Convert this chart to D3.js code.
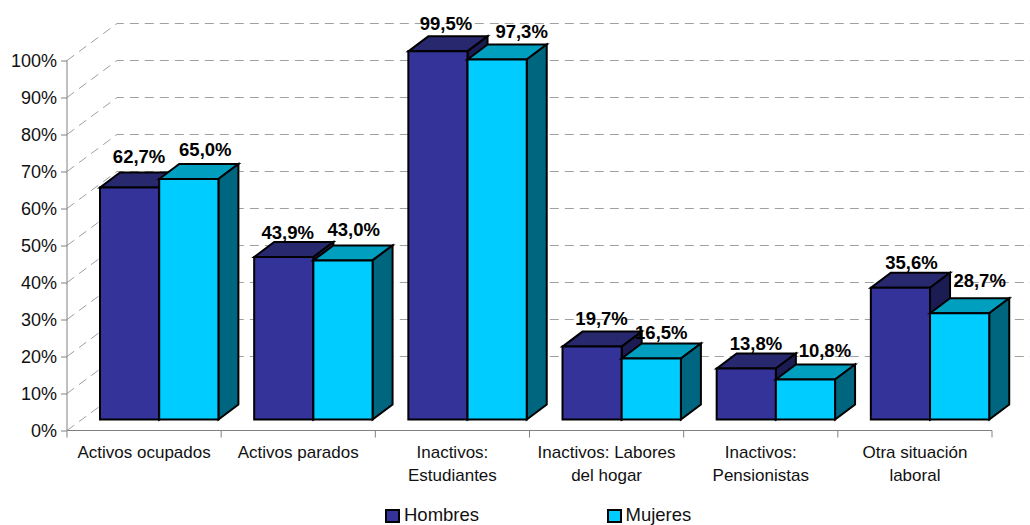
<!DOCTYPE html>
<html><head><meta charset="utf-8">
<style>html,body{margin:0;padding:0;background:#fff}svg{display:block}text{font-family:"Liberation Sans",Arial,sans-serif}</style>
<script src="https://cdn.jsdelivr.net/npm/d3@7/dist/d3.min.js"></script>
</head><body><script>
const categories=[["Activos ocupados"],["Activos parados"],["Inactivos:","Estudiantes"],["Inactivos: Labores","del hogar"],["Inactivos:","Pensionistas"],["Otra situación","laboral"]];
const hombres=[62.7,43.9,99.5,19.7,13.8,35.6];
const mujeres=[65.0,43.0,97.3,16.5,10.8,28.7];
const yTicks=[0,10,20,30,40,50,60,70,80,90,100];
const seriesNames=["Hombres","Mujeres"];

const W=1030,H=525,left=67,right=992,y0=430.5,y100=60.5,dx=50,dy=-37,bx=20,by=-15;
const svg=d3.select("body").append("svg").attr("width",W).attr("height",H);
const y=d3.scaleLinear().domain([0,100]).range([y0,y100]);
const x=d3.scaleBand().domain(d3.range(6)).range([left,right]);
const styles=[{f:"#333399",t:"#28286e",s:"#1c1c55"},{f:"#00ccff",t:"#009fc0",s:"#006680"}];
const series=[hombres,mujeres];
const grid="#a0a0a0";
yTicks.slice(1).forEach(t=>{
  svg.append("path").attr("d",`M${left},${y(t)}L${left+dx},${y(t)+dy}L${W},${y(t)+dy}`)
    .attr("fill","none").attr("stroke",grid).attr("stroke-width",1).attr("stroke-dasharray","9,6");
});
svg.append("path").attr("d",`M${left},${y(0)}L${left+dx},${y(0)+dy}`).attr("fill","none").attr("stroke",grid).attr("stroke-dasharray","9,6");
const gy=svg.append("g").attr("transform",`translate(${left},0)`).call(d3.axisLeft(y).tickValues(yTicks).tickSize(6).tickPadding(4).tickFormat(d=>d+"%"));
const gx=svg.append("g").attr("transform",`translate(0,${y0})`);
gx.append("line").attr("x1",left).attr("x2",right).attr("stroke","#808080").attr("stroke-width",1);
d3.range(7).forEach(i=>gx.append("line").attr("x1",left+i*x.step()).attr("x2",left+i*x.step()).attr("y1",0).attr("y2",7).attr("stroke","#808080"));
gy.selectAll("path,line").attr("stroke","#808080");
gy.select("path").attr("d",`M0,${y0}V${y100}`);
gy.selectAll("text").attr("font-size",18).attr("fill","#111").attr("font-family",'"Liberation Sans"');
const barW=59.2,inset=33,base=y0-11;
const h=v=>y0-y(v);
categories.forEach((c,i)=>{
  const g=svg.append("g");
  series.forEach((vals,k)=>{
    const X=x(i)+inset+k*barW,top=base-h(vals[i]),st=styles[k];
    const o={stroke:"#000","stroke-width":2,"stroke-linejoin":"miter"};
    const add=(d,f)=>{const p=g.append("path").attr("d",d).attr("fill",f);Object.entries(o).forEach(([a,b])=>p.attr(a,b));};
    add(`M${X},${top}L${X+bx},${top+by}H${X+barW+bx}L${X+barW},${top}Z`,st.t);
    add(`M${X+barW},${top}L${X+barW+bx},${top+by}V${base+by}L${X+barW},${base}Z`,st.s);
    add(`M${X},${top}H${X+barW}V${base}H${X}Z`,st.f);
  });
});
// data labels: centre offset from bar centre, and baseline lift above the bar's front top
const labelDx=[[9.5,16.5],[4,10.8],[8,24.5],[9.5,10],[9.7,19.4],[11,20]];
const labelLift=[[24.2,23],[17.8,24.4],[21.3,21.8],[21.3,19.8],[18.7,22.8],[18.5,26]];
categories.forEach((c,i)=>{
  series.forEach((vals,k)=>{
    svg.append("text").attr("x",x(i)+inset+k*barW+barW/2+labelDx[i][k]).attr("y",base-h(vals[i])-labelLift[i][k])
      .attr("text-anchor","middle").attr("font-size",18.5).attr("font-weight","bold").attr("fill","#000")
      .text(d3.format(".1f")(vals[i]).replace(".",",")+"%");
  });
});
categories.forEach((c,i)=>{
  c.forEach((l,j)=>svg.append("text").attr("x",left+x.step()*(i+.5)).attr("y",458+j*22.5).attr("text-anchor","middle")
    .attr("font-size",17).attr("fill","#111").text(l));
});
[[386,404],[608,625.5]].forEach(([lx,tx],k)=>{
  svg.append("rect").attr("x",lx).attr("y",510).attr("width",13).attr("height",12).attr("fill",styles[k].f).attr("stroke","#000").attr("stroke-width",2);
  svg.append("text").attr("x",tx).attr("y",521).attr("font-size",18.5).attr("fill","#111").text(seriesNames[k]);
});
</script></body></html>
